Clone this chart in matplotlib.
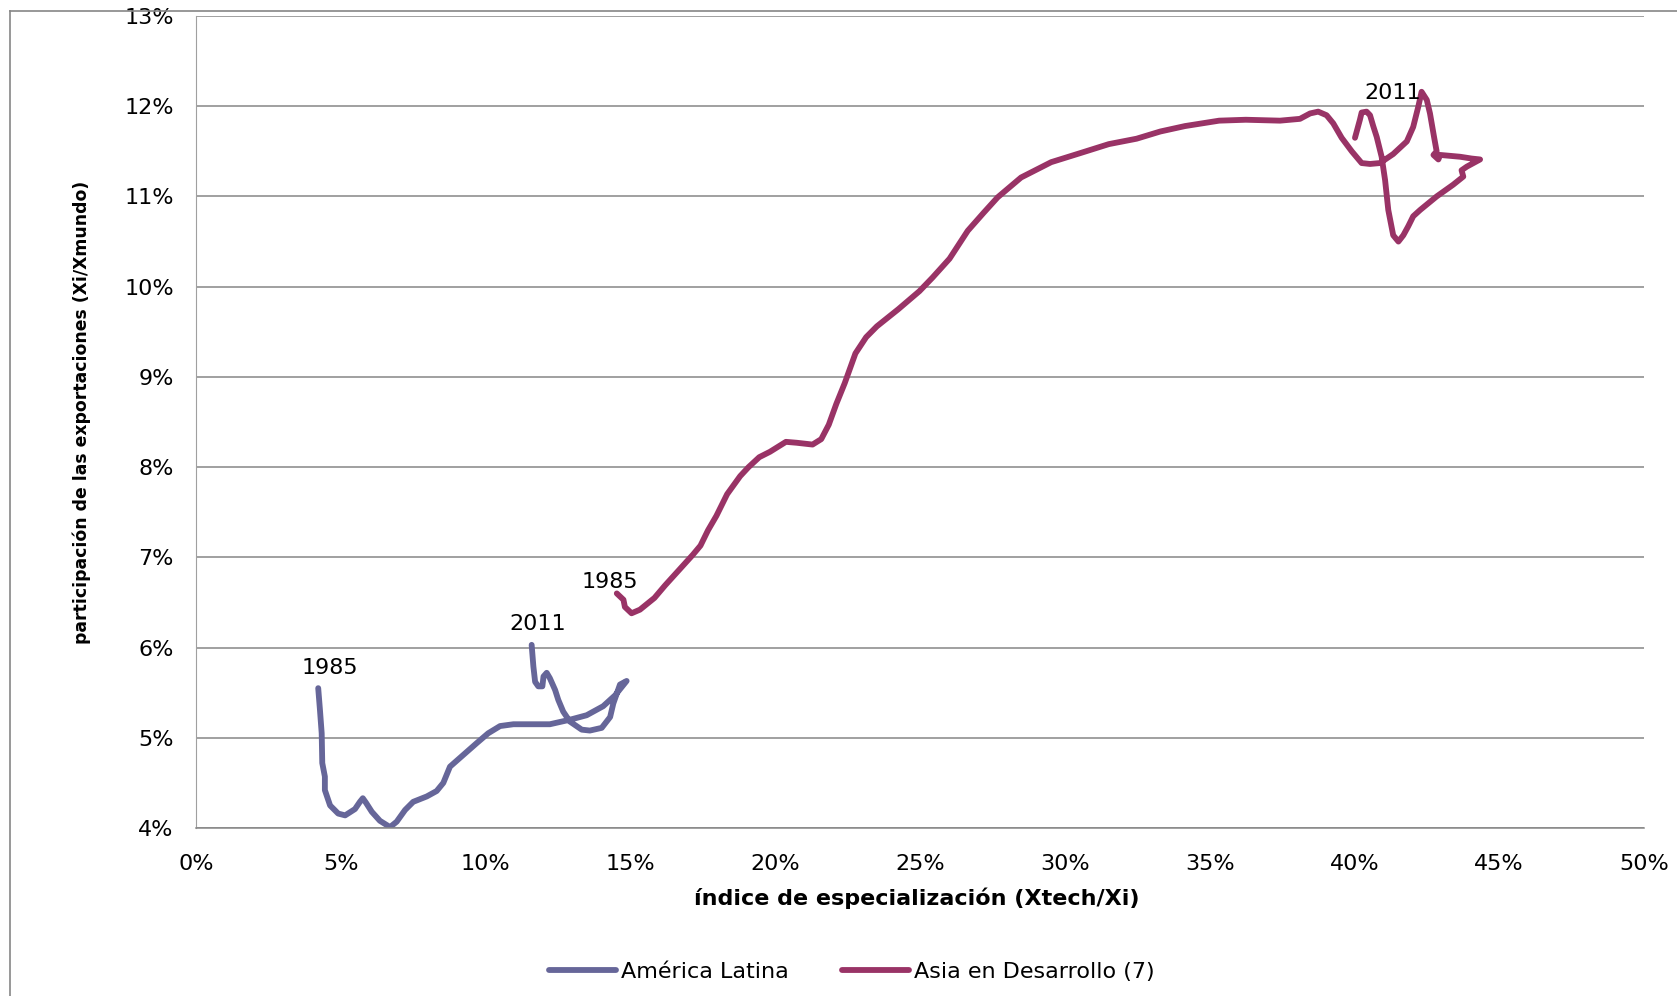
import matplotlib.pyplot as plt
from matplotlib.lines import Line2D

# data (percent units)
la_x = [4.22, 4.28, 4.34, 4.36, 4.45, 4.45, 4.63, 4.91, 5.15, 5.49, 5.66, 5.76, 5.87, 6.07, 6.35, 6.70,
        6.93, 7.22, 7.50, 7.97, 8.31, 8.54, 8.77, 9.23, 9.69, 10.09, 10.50, 10.96, 12.22, 12.91, 13.49,
        14.06, 14.47, 14.87, 14.64, 14.41, 14.30, 14.01, 13.60, 13.32, 12.91, 12.68, 12.51, 12.40, 12.22,
        12.11, 12.00, 11.96, 11.82, 11.71, 11.65, 11.59]
la_y = [5.55, 5.31, 5.05, 4.72, 4.57, 4.42, 4.25, 4.16, 4.14, 4.21, 4.29, 4.33, 4.28, 4.18, 4.08, 4.01,
        4.07, 4.20, 4.29, 4.35, 4.41, 4.50, 4.68, 4.81, 4.94, 5.05, 5.13, 5.15, 5.15, 5.20, 5.25,
        5.35, 5.47, 5.63, 5.59, 5.38, 5.23, 5.11, 5.08, 5.09, 5.18, 5.29, 5.42, 5.53, 5.66,
        5.72, 5.68, 5.57, 5.57, 5.62, 5.79, 6.03]

asia_x = [14.53, 14.76, 14.81, 15.04, 15.33, 15.83, 16.20, 16.68, 17.16, 17.42, 17.68, 17.97, 18.34,
          18.79, 19.08, 19.45, 19.82, 20.37, 20.74, 21.29, 21.59, 21.85, 22.11, 22.40, 22.77, 23.14,
          23.51, 24.25, 24.98, 25.43, 26.02, 26.65, 27.20, 27.68, 28.49, 29.53, 30.53, 31.52, 32.48,
          33.30, 34.15, 35.33, 36.25, 37.43, 38.12, 38.47, 38.75, 39.04, 39.27, 39.56, 39.91, 40.25,
          40.54, 40.88, 41.34, 41.81, 42.03, 42.21, 42.32, 42.50, 42.61, 42.75, 42.84, 42.73, 42.90,
          42.96, 43.65, 44.05, 44.34, 43.88, 43.70, 43.76, 43.41, 42.84, 42.27, 42.03, 41.86, 41.69,
          41.52, 41.34, 41.17, 41.06, 40.94, 40.77, 40.65, 40.54, 40.42, 40.25, 40.19, 40.02]
asia_y = [6.60, 6.53, 6.45, 6.38, 6.42, 6.55, 6.69, 6.86, 7.03, 7.13, 7.30, 7.46, 7.70,
          7.90, 8.00, 8.11, 8.17, 8.28, 8.27, 8.25, 8.31, 8.47, 8.70, 8.93, 9.26, 9.44,
          9.56, 9.75, 9.95, 10.10, 10.31, 10.62, 10.82, 10.99, 11.21, 11.38, 11.48, 11.58, 11.64,
          11.72, 11.78, 11.84, 11.85, 11.84, 11.86, 11.92, 11.94, 11.90, 11.81, 11.65, 11.50, 11.37,
          11.36, 11.37, 11.47, 11.61, 11.77, 12.00, 12.16, 12.07, 11.92, 11.66, 11.50, 11.46, 11.41,
          11.46, 11.44, 11.42, 11.41, 11.33, 11.29, 11.22, 11.13, 11.00, 10.85, 10.78, 10.67, 10.57,
          10.50, 10.57, 10.85, 11.18, 11.44, 11.66, 11.78, 11.90, 11.94, 11.93, 11.85, 11.65]

# year labels: (text, x, y)
year_labels = [("1985", 4.63, 5.77), ("2011", 11.81, 6.26),
               ("1985", 14.30, 6.73), ("2011", 41.31, 12.15)]

x_ticks = list(range(0, 51, 5))
y_ticks = list(range(4, 14))

W, H = 1677, 996
fig = plt.figure(figsize=(W / 100, H / 100), dpi=100)
ax = fig.add_axes([196 / W, 1 - 828 / H, (1644 - 196) / W, (828 - 16) / H])

gray = '#868686'
fs = 16
ax.set_xlim(0, 50)
ax.set_ylim(4, 13)
ax.set_yticks(y_ticks)
ax.set_xticks(x_ticks)
ax.set_yticklabels(['%d%%' % t for t in y_ticks])
ax.set_xticklabels(['%d%%' % t for t in x_ticks])
ax.tick_params(axis='both', length=0, labelsize=fs)
ax.tick_params(axis='x', pad=19)
ax.tick_params(axis='y', pad=16)
ax.grid(axis='y', color=gray, lw=1.1)
ax.set_axisbelow(True)
for s in ['top', 'right']:
    ax.spines[s].set_visible(False)
ax.spines['left'].set_color('#a0a0a0')
ax.spines['bottom'].set_color(gray)
ax.spines['bottom'].set_linewidth(1.1)

l1, = ax.plot(la_x, la_y, color='#666699', lw=4.2, solid_joinstyle='round',
              solid_capstyle='round', label='América Latina')
l2, = ax.plot(asia_x, asia_y, color='#993366', lw=4.2, solid_joinstyle='round',
              solid_capstyle='round', label='Asia en Desarrollo (7)')

for txt, x, y in year_labels:
    ax.text(x, y, txt, fontsize=fs, ha='center', va='center')

fig.text(917 / W, 1 - 898 / H, 'índice de especialización (Xtech/Xi)',
         fontsize=16, fontweight='bold', ha='center', va='center')
fig.text(82 / W, 1 - 412 / H, 'participación de las exportaciones (Xi/Xmundo)',
         fontsize=12.4, fontweight='bold', rotation=90, ha='center', va='center')

fig.legend(handles=[l1, l2], loc='center', bbox_to_anchor=(852 / W, 1 - 972 / H),
           ncol=2, frameon=False, fontsize=fs, handlelength=3.0,
           handletextpad=0.25, columnspacing=2.4)

# outer chart border (left and top edges visible)
fig.add_artist(Line2D([9.5 / W, 9.5 / W], [0, 1 - 11.5 / H], color=gray, lw=1.2))
fig.add_artist(Line2D([9.5 / W, 1], [1 - 11.5 / H, 1 - 11.5 / H], color=gray, lw=1.2))

fig.savefig('out.png', dpi=100)
